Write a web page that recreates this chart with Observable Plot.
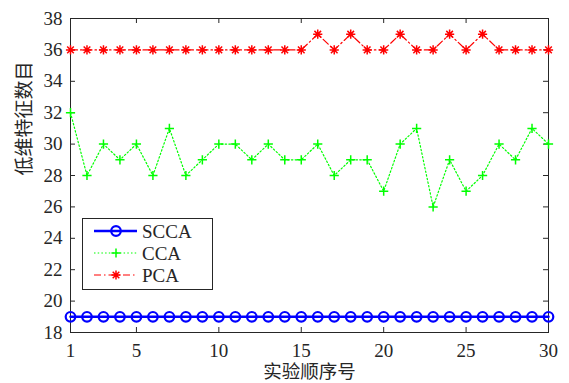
<!DOCTYPE html>
<html>
<head>
<meta charset="utf-8">
<script src="https://cdn.jsdelivr.net/npm/d3@7"></script>
<script src="https://cdn.jsdelivr.net/npm/@observablehq/plot@0.6"></script>
<style>
  html, body { margin: 0; padding: 0; background: white; }
  #wrap { position: relative; width: 569px; height: 383px; }
  #legend { position: absolute; left: 82px; top: 218px; }
  #wrap svg text { font-family: "Liberation Serif", "Noto Sans CJK SC", serif !important; }
</style>
</head>
<body>
<div id="wrap"></div>
<script>
const runs = d3.range(1, 31);
const scca = [19,19,19,19,19,19,19,19,19,19,19,19,19,19,19,19,19,19,19,19,19,19,19,19,19,19,19,19,19,19];
const cca  = [32,28,30,29,30,28,31,28,29,30,30,29,30,29,29,30,28,29,29,27,30,31,26,29,27,28,30,29,31,30];
const pca  = [36,36,36,36,36,36,36,36,36,36,36,36,36,36,36,37,36,37,36,36,37,36,36,37,36,37,36,36,36,36];
const xTicks = [1, 5, 10, 15, 20, 25, 30];
const yTicks = [18, 20, 22, 24, 26, 28, 30, 32, 34, 36, 38];
const seriesNames = ["SCCA", "CCA", "PCA"];
const xLabel = "实验顺序号";
const yLabel = "低维特征数目";

const toRows = (vals) => vals.map((v, i) => ({x: runs[i], y: v}));
const sccaRows = toRows(scca), ccaRows = toRows(cca), pcaRows = toRows(pca);

const plusSym = {draw(ctx, size) {
  const r = Math.sqrt(size / Math.PI);
  ctx.moveTo(-r, 0); ctx.lineTo(r, 0); ctx.moveTo(0, -r); ctx.lineTo(0, r);
}};
const starSym = {draw(ctx, size) {
  const r = Math.sqrt(size / Math.PI), d = r * 0.72;
  ctx.moveTo(-r, 0); ctx.lineTo(r, 0); ctx.moveTo(0, -r); ctx.lineTo(0, r);
  ctx.moveTo(-d, -d); ctx.lineTo(d, d); ctx.moveTo(-d, d); ctx.lineTo(d, -d);
}};

const W = 569, H = 383, mL = 70, mR = 21, mT = 18, mB = 51;
const fw = W - mL - mR, fh = H - mT - mB;
const axisColor = "#262626";

const chart = Plot.plot({
  width: W, height: H,
  marginLeft: mL, marginRight: mR, marginTop: mT, marginBottom: mB,
  style: {fontSize: "18px", color: axisColor, background: "white"},
  x: {domain: [1, 30]},
  y: {domain: [18, 38]},
  marks: [
    Plot.frame({stroke: axisColor, strokeWidth: 1}),
    Plot.axisX({ticks: xTicks, tickSize: 0, tickPadding: 11, label: null, fontSize: 19, fill: axisColor}),
    Plot.axisY({ticks: yTicks, tickSize: 0, tickPadding: 8, label: null, fontSize: 19, fill: axisColor}),
    Plot.tickX(xTicks, {x: d => d, insetTop: fh - 5, stroke: axisColor}),
    Plot.tickX(xTicks, {x: d => d, insetBottom: fh - 5, stroke: axisColor}),
    Plot.tickY(yTicks, {y: d => d, insetRight: fw - 5, stroke: axisColor}),
    Plot.tickY(yTicks, {y: d => d, insetLeft: fw - 5, stroke: axisColor}),
    Plot.line(sccaRows, {x: "x", y: "y", stroke: "#0000ff", strokeWidth: 2.5}),
    Plot.dot(sccaRows, {x: "x", y: "y", r: 4.8, stroke: "#0000ff", strokeWidth: 2.2, fill: "none"}),
    Plot.line(ccaRows, {x: "x", y: "y", stroke: "#00ff00", strokeWidth: 1.2, strokeDasharray: "1.5,2.2"}),
    Plot.dot(ccaRows, {x: "x", y: "y", r: 4.6, symbol: plusSym, stroke: "#00ff00", strokeWidth: 1.5, fill: "none"}),
    Plot.line(pcaRows, {x: "x", y: "y", stroke: "#ff0000", strokeWidth: 1.2, strokeDasharray: "7,3,1.5,3"}),
    Plot.dot(pcaRows, {x: "x", y: "y", r: 4.6, symbol: starSym, stroke: "#ff0000", strokeWidth: 1.5, fill: "none"}),
    Plot.text([xLabel], {text: d => d, frameAnchor: "bottom", dy: 39.5, lineAnchor: "middle", fontSize: 18.5, fill: axisColor}),
    Plot.text([yLabel], {text: d => d, frameAnchor: "left", dx: -46, rotate: -90, fontSize: 19, fill: axisColor})
  ]
});
document.getElementById("wrap").appendChild(chart);

// Legend
const colors = ["#0000ff", "#00ff00", "#ff0000"];
const dashes = [null, "1.5,2.2", "7,3,1.5,3"];
const widths = [2.5, 1.2, 1.2];
const lg = d3.select("#wrap").append("svg").attr("id", "legend")
  .attr("width", 131).attr("height", 72);
lg.append("rect").attr("x", 0.5).attr("y", 0.5).attr("width", 130).attr("height", 71)
  .attr("fill", "white").attr("stroke", axisColor);
seriesNames.forEach((name, i) => {
  const y = 13 + i * 22;
  lg.append("line").attr("x1", 12).attr("x2", 55).attr("y1", y).attr("y2", y)
    .attr("stroke", colors[i]).attr("stroke-width", widths[i])
    .attr("stroke-dasharray", dashes[i]);
  const g = lg.append("g").attr("transform", `translate(34,${y})`)
    .attr("stroke", colors[i]).attr("fill", "none");
  if (i === 0) {
    g.append("circle").attr("r", 4.8).attr("stroke-width", 2.2);
  } else {
    const p = d3.path();
    (i === 1 ? plusSym : starSym).draw(p, Math.PI * 4.6 * 4.6);
    g.append("path").attr("d", p.toString()).attr("stroke-width", 1.5);
  }
  lg.append("text").attr("x", 60).attr("y", y + 6.5).text(name)
    .attr("font-size", 19).attr("fill", axisColor);
});
</script>
</body>
</html>
